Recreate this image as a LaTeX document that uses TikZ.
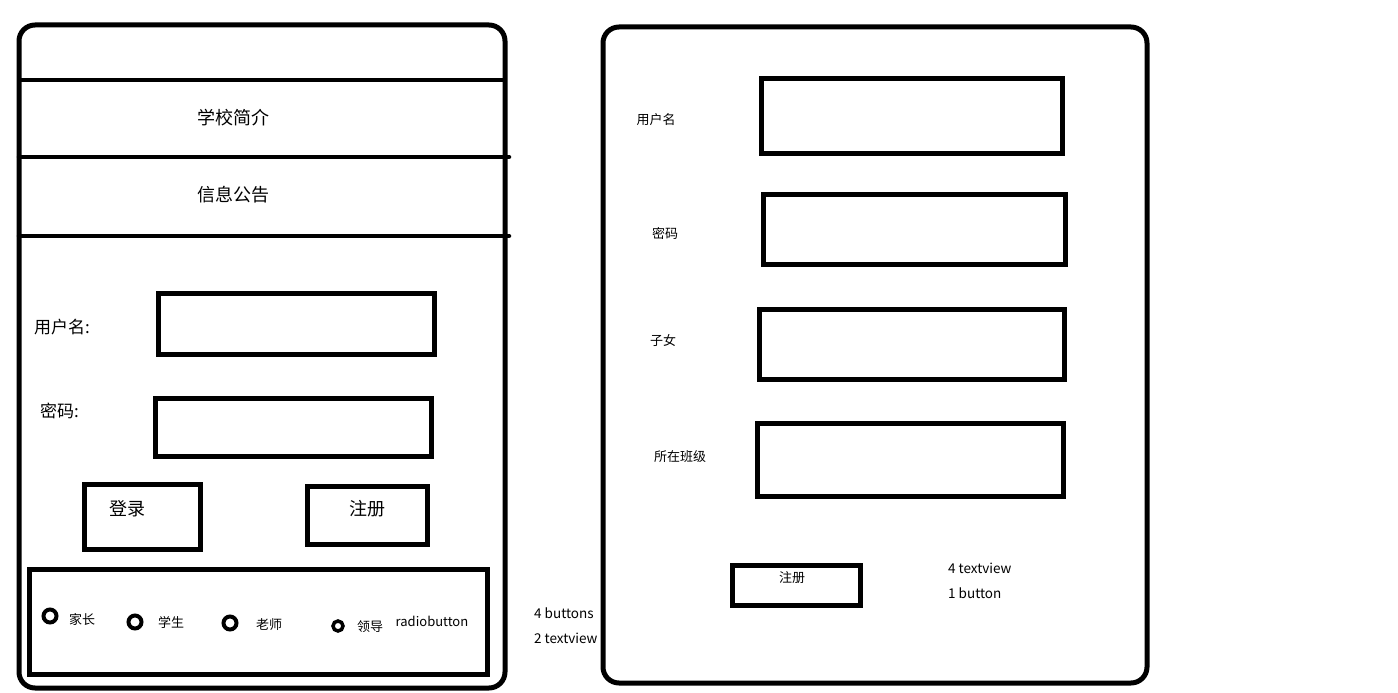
\documentclass[tikz,border=0pt]{standalone}
\usepackage{fontspec}
\setmainfont{Noto Sans CJK SC}
\begin{document}
\begin{tikzpicture}[x=1pt,y=-1pt,
  frame/.style={draw=black,line width=5pt,rounded corners=16pt},
  field/.style={draw=black,line width=5pt,outer sep=0pt},
  sep/.style={draw=black,line width=4.5pt,line cap=round},
  radio/.style={draw=black,line width=4pt,circle,inner sep=0pt,outer sep=0pt,minimum size=13pt},
  big/.style={font=\fontsize{18}{20}\selectfont,inner sep=0pt},
  mid/.style={font=\fontsize{17}{20}\selectfont,inner sep=0pt},
  small/.style={font=\fontsize{13}{15}\selectfont,inner sep=0pt},
  note/.style={font=\fontsize{13.5}{15}\selectfont,inner sep=0pt,anchor=west}]
\useasboundingbox[fill=white] (0,0) rectangle (1398,693);

% ---- login screen ----
\draw[frame] (19,25) rectangle (505,688);
\coordinate (l80a) at (19,80);  \coordinate (l80b) at (505,80);
\coordinate (l157a) at (19,157); \coordinate (l157b) at (509,157);
\coordinate (l236a) at (19,236); \coordinate (l236b) at (509,236);
\draw[sep,line cap=butt] (l80a) -- (l80b);
\draw[sep] (l157a) -- (l157b);
\draw[sep] (l236a) -- (l236b);
\node[big] (intro) at (233,118) {学校简介};
\node[big] (notice) at (233,195) {信息公告};

\node[mid,anchor=west] (ulabel) at (34,327) {用户名:};
\node[field,minimum width=276pt,minimum height=61pt,anchor=north west] (ubox) at (158,293) {};
\node[mid,anchor=west] (plabel) at (40,411) {密码:};
\node[field,minimum width=276pt,minimum height=58pt,anchor=north west] (pbox) at (155,398) {};

\node[field,minimum width=116pt,minimum height=65pt,anchor=north west] (login) at (84,484) {};
\node[big] (logintxt) at (127,509) {登录};
\node[field,minimum width=120pt,minimum height=58pt,anchor=north west] (reg) at (307,486) {};
\node[big] (regtxt) at (367,509) {注册};

\node[field,minimum width=458pt,minimum height=105pt,anchor=north west] (roles) at (29,569) {};
\node[radio] (r1) at (50,616) {};
\node[small] (t1) at (82,619) {家长};
\node[radio] (r2) at (135,622) {};
\node[small] (t2) at (171,622) {学生};
\node[radio] (r3) at (230,623) {};
\node[small] (t3) at (269,625) {老师};
\node[radio,minimum size=10pt,line width=3.5pt] (r4) at (338,626) {};
\node[small] (t4) at (370,627) {领导};
\node[small] (rb) at (432,621) {radiobutton};

\node[note] (n1) at (534,613) {4 buttons};
\node[note] (n2) at (534,638) {2 textview};

% ---- registration screen ----
\draw[frame] (603,27) rectangle (1147,683);
\node[small] (rlu) at (656,120) {用户名};
\node[field,minimum width=301pt,minimum height=74pt,anchor=north west] (rbu) at (761,79) {};
\node[small] (rlp) at (665,233) {密码};
\node[field,minimum width=302pt,minimum height=70pt,anchor=north west] (rbp) at (763,194) {};
\node[small] (rlc) at (663,340) {子女};
\node[field,minimum width=305pt,minimum height=70pt,anchor=north west] (rbc) at (759,309) {};
\node[small] (rlk) at (680,457) {所在班级};
\node[field,minimum width=306pt,minimum height=73pt,anchor=north west] (rbk) at (757,423) {};

\node[field,minimum width=128pt,minimum height=40pt,anchor=north west] (rreg) at (732,565) {};
\node[small] (rregtxt) at (792,578) {注册};

\node[note] (n3) at (948,568) {4 textview};
\node[note] (n4) at (948,593) {1 button};
\end{tikzpicture}
\end{document}
